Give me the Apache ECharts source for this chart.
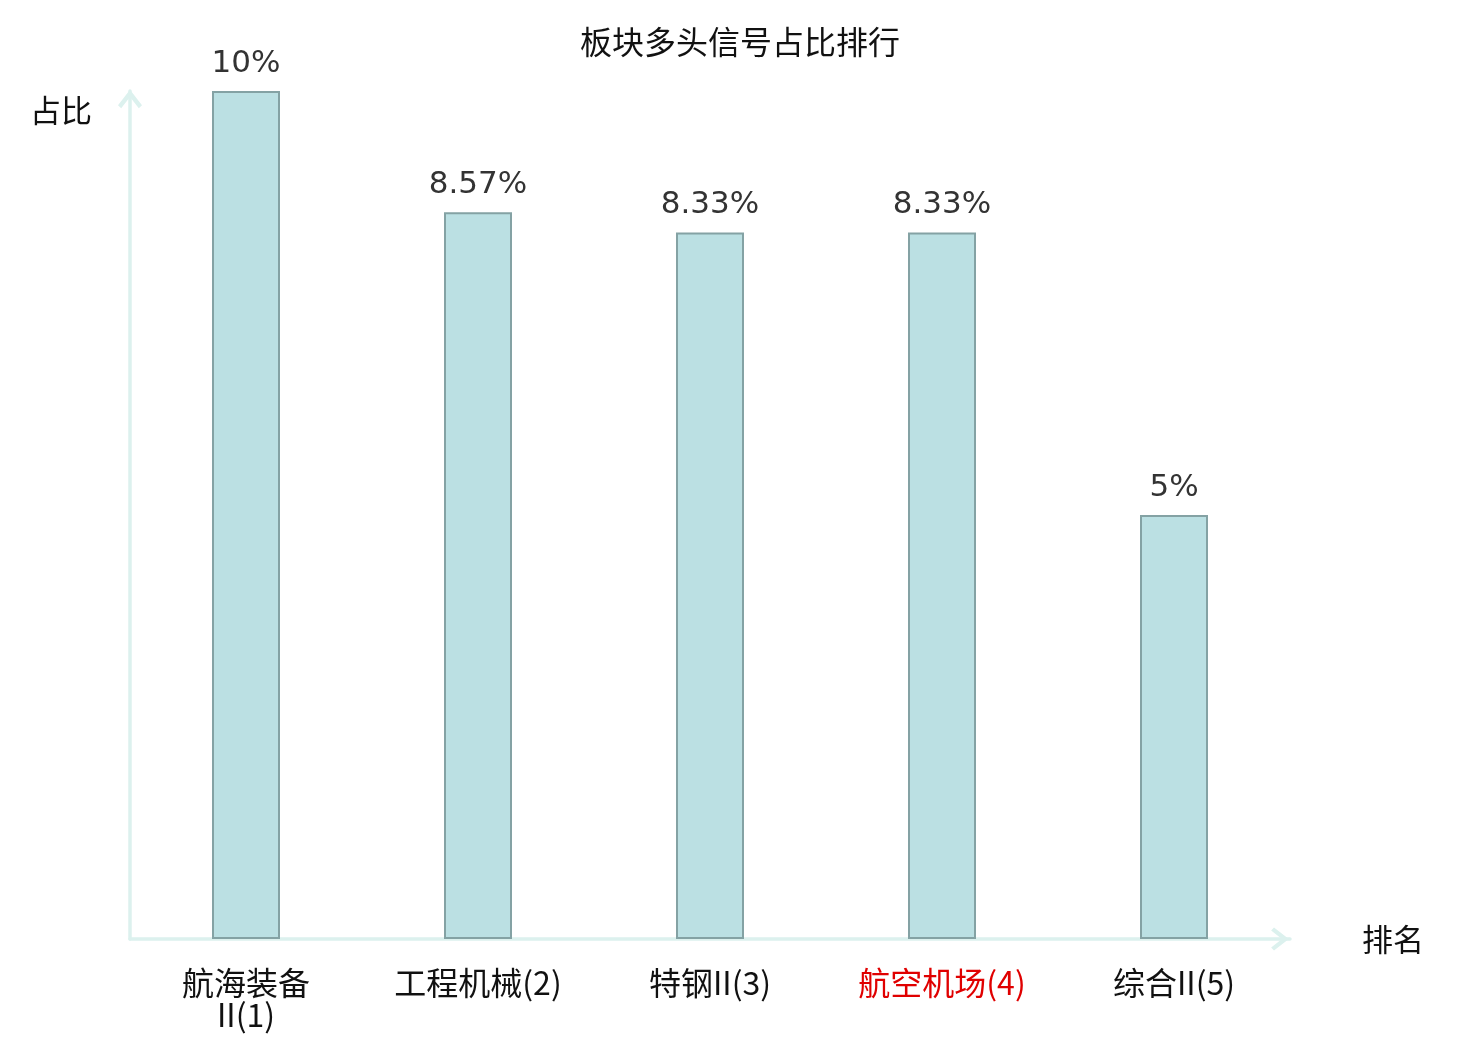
<!DOCTYPE html>
<html>
<head>
<meta charset="utf-8">
<style>
    html, body {
        margin: 0;
        padding: 0;
        background: #fff;
    }
    #echarts {
        width: 1480px;
        height: 1040px;
    }
</style>
</head>
<body>
<div id="echarts"></div>
<script src="https://cdn.jsdelivr.net/npm/echarts@6/dist/echarts.min.js"></script>
<script>
    // 数据
    const categories = ['航海装备II(1)', '工程机械(2)', '特钢II(3)', '航空机场(4)', '综合II(5)'];
    const ratios = [10, 8.57, 8.33, 8.33, 5];
    const highlightIndex = 3; // 红色标注的板块

    const cjkFont = '"Noto Sans CJK SC", sans-serif';
    const axisColor = '#dcf1ee';
    // 箭头（折线形）
    const arrowPath = 'path://M12,0 L24,15.5 L20.8,18.5 L12,7.2 L3.2,18.5 L0,15.5 Z';

    let myChart = echarts.init(document.getElementById('echarts'));

    let option = {
        backgroundColor: '#fff',
        animation: false,
        title: {
            text: '板块多头信号占比排行',
            left: 'center',
            top: 21,
            textStyle: {
                fontFamily: cjkFont,
                fontSize: 32,
                fontWeight: 'normal',
                color: '#111'
            }
        },
        grid: {
            left: 130,
            right: 190,
            top: 91,
            bottom: 101
        },
        xAxis: {
            type: 'category',
            data: categories.map(function (name, i) {
                return i === highlightIndex ? {value: name, textStyle: {color: '#e00000'}} : name;
            }),
            name: '排名',
            nameLocation: 'end',
            nameGap: 72,
            nameTextStyle: {
                fontFamily: cjkFont,
                fontSize: 31,
                color: '#111',
                padding: [4, 0, 0, 0]
            },
            axisLine: {
                lineStyle: {color: axisColor, width: 3.5},
                symbol: ['none', arrowPath],
                symbolSize: [23, 21],
                symbolOffset: [0, -10]
            },
            axisTick: {show: false},
            axisLabel: {
                fontFamily: cjkFont,
                fontSize: 32,
                color: '#111',
                margin: 28,
                lineHeight: 32,
                width: 174,
                overflow: 'break',
                interval: 0
            },
            splitLine: {show: false}
        },
        yAxis: {
            type: 'value',
            min: 0,
            max: 10,
            name: '占比',
            nameLocation: 'end',
            nameGap: -19,
            nameTextStyle: {
                fontFamily: cjkFont,
                fontSize: 31,
                color: '#111',
                align: 'right',
                verticalAlign: 'middle',
                padding: [0, 38, 0, 0]
            },
            axisLine: {
                show: true,
                lineStyle: {color: axisColor, width: 3.5},
                symbol: ['none', arrowPath],
                symbolSize: [24, 22],
                symbolOffset: [0, -8]
            },
            axisTick: {show: false},
            axisLabel: {show: false},
            splitLine: {show: false}
        },
        series: [{
            type: 'bar',
            data: ratios,
            barWidth: 68,
            itemStyle: {
                color: '#bbe0e3',
                borderColor: '#84a2a4',
                borderWidth: 2
            },
            label: {
                show: true,
                position: 'top',
                distance: 12,
                fontFamily: '"DejaVu Sans", sans-serif',
                fontSize: 31,
                color: '#333',
                formatter: function (p) {
                    return p.value + '%';
                }
            }
        }]
    };

    myChart.setOption(option);
</script>
</body>
</html>
